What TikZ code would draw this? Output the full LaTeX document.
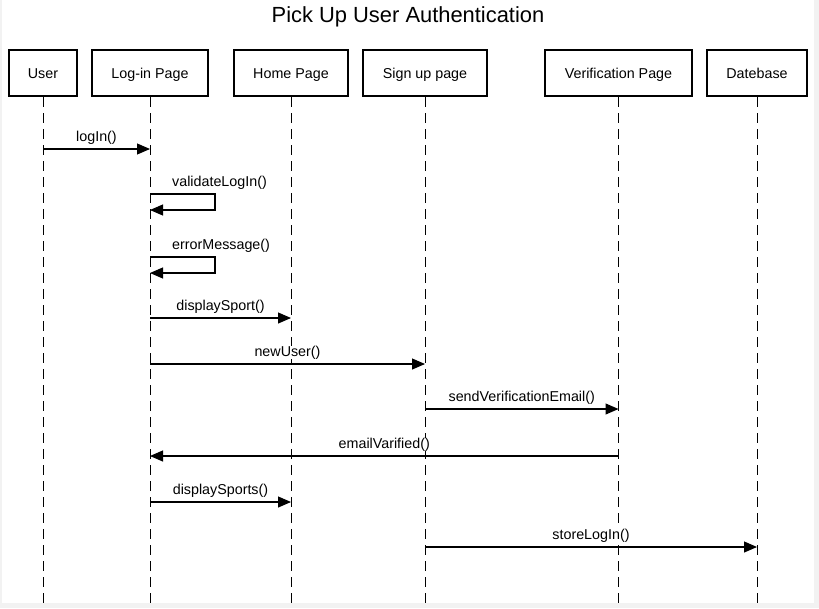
\documentclass[tikz,border=0pt]{standalone}
\usepackage{fontspec}
\setmainfont{Liberation Sans}
\usetikzlibrary{arrows.meta}

\tikzset{
  lifebox/.style={draw,line width=2pt,minimum height=46pt,inner sep=0pt,
    font=\fontsize{14.3}{17}\selectfont,text height=12.3pt,text depth=0.7pt},
  lifeline/.style={line width=1pt,dash pattern=on 10pt off 6pt},
  msg/.style={line width=1.1pt,-{Triangle[length=13pt,width=11pt]}},
  msglabel/.style={font=\fontsize{14.3}{17}\selectfont,inner sep=0pt,
    text height=10pt,text depth=3pt,fill=white}
}

\begin{document}
\begin{tikzpicture}[x=1pt,y=-1pt]
\useasboundingbox (0,0) rectangle (819,608);
\fill[black!5] (0,0) rectangle (819,608);
\fill[white] (2,0) rectangle (814,603);
\node[font=\fontsize{21.9}{26}\selectfont] (title) at (408,17) {Pick Up User Authentication};
% objects
\node[lifebox,minimum width=68pt] (user) at (43,73) {User};
\node[lifebox,minimum width=116pt] (login) at (150,73) {Log-in Page};
\node[lifebox,minimum width=114pt] (home) at (291,73) {Home Page};
\node[lifebox,minimum width=124pt] (signup) at (425,73) {Sign up page};
\node[lifebox,minimum width=147pt] (verify) at (618.5,73) {Verification Page};
\node[lifebox,minimum width=100pt] (dbase) at (757,73) {Datebase};
\coordinate (bot) at (0,603);
\foreach \o in {user,login,home,signup,verify,dbase}
  \draw[lifeline] (\o.south) -- (\o |- bot);
% message rows
\coordinate (m1) at (0,149);
\coordinate (v1) at (0,194);
\coordinate (v2) at (0,210);
\coordinate (e1) at (0,257);
\coordinate (e2) at (0,273);
\coordinate (m2) at (0,318);
\coordinate (m3) at (0,364);
\coordinate (m4) at (0,409);
\coordinate (m5) at (0,456);
\coordinate (m6) at (0,502);
\coordinate (m7) at (0,547);
% messages
\draw[msg] (user |- m1) -- (login |- m1) node[msglabel,midway,above=4pt] {logIn()};
\draw[msg] (login |- v1) -- ++(65,0) -- ++(0,16) -- (login |- v2);
\node[msglabel,anchor=south west,xshift=22pt,yshift=4pt] (vlabel) at (login |- v1) {validateLogIn()};
\draw[msg] (login |- e1) -- ++(65,0) -- ++(0,16) -- (login |- e2);
\node[msglabel,anchor=south west,xshift=22pt,yshift=4pt] (elabel) at (login |- e1) {errorMessage()};
\draw[msg] (login |- m2) -- (home |- m2) node[msglabel,midway,above=4pt] {displaySport()};
\draw[msg] (login |- m3) -- (signup |- m3) node[msglabel,midway,above=4pt] {newUser()};
\draw[msg] (signup |- m4) -- (verify |- m4) node[msglabel,midway,above=4pt] {sendVerificationEmail()};
\draw[msg] (verify |- m5) -- (login |- m5) node[msglabel,midway,above=4pt] {emailVarified()};
\draw[msg] (login |- m6) -- (home |- m6) node[msglabel,midway,above=4pt] {displaySports()};
\draw[msg] (signup |- m7) -- (dbase |- m7) node[msglabel,midway,above=4pt] {storeLogIn()};
\end{tikzpicture}
\end{document}
